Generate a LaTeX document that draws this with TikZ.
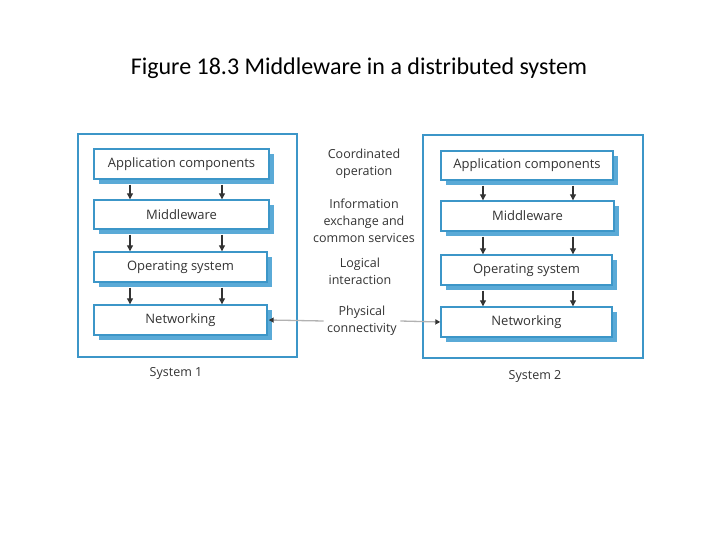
\documentclass[tikz,border=0pt]{standalone}
\usepackage{fontspec}
\setmainfont{Carlito}
\newfontfamily\diag{Open Sans}
\usetikzlibrary{arrows.meta}
\definecolor{fb}{RGB}{60,150,200}
\definecolor{sh}{RGB}{90,170,215}
\begin{document}
\begin{tikzpicture}[x=1pt,y=-1pt,
 frame/.style={draw=fb,line width=1.8pt},
 lay/.style={draw=fb,line width=1.4pt,fill=white,minimum height=30pt,inner sep=0pt,font=\diag\fontsize{13}{14}\selectfont,text=black!80},
 shad/.style={fill=sh},
 lab/.style={font=\diag\fontsize{12.5}{17}\selectfont,text=black!80,align=center},
 dn/.style={-{Triangle[length=6pt,width=6pt]},line width=1.1pt,black!80}]
\useasboundingbox (0,0) rectangle (720,540);
\node[font=\fontsize{24}{28}\selectfont] (title) at (359,68) {Figure 18.3 Middleware in a distributed system};
\draw[frame] (78,134) rectangle (297,357);
\draw[frame] (423,135) rectangle (643,358);
\foreach \n/\t/\ya/\yb/\xb in {a1/Application components/149/179/269,m1/Middleware/200/229/269,o1/Operating system/252/282/267,n1/Networking/305/335/267}{
 \fill[shad] (99,\ya+5) rectangle (\xb+5,\yb+5);
 \node[lay,minimum width=\xb-94,minimum height=\yb-\ya] (\n) at ({(94+\xb)/2},{(\ya+\yb)/2}) {\t};}
\foreach \n/\t/\ya/\yb/\xb in {a2/Application components/151/180/613,m2/Middleware/201/231/614,o2/Operating system/255/285/612,n2/Networking/307/337/612}{
 \fill[shad] (446,\ya+5) rectangle (\xb+5,\yb+5);
 \node[lay,minimum width=\xb-441,minimum height=\yb-\ya] (\n) at ({(441+\xb)/2},{(\ya+\yb)/2}) {\t};}
\foreach \u/\v in {a1/m1,m1/o1,o1/n1}{
 \draw[dn] (\u.south -| 130,0) ++(0,5) -- (\v.north -| 130,0);
 \draw[dn] (\u.south -| 222,0) ++(0,5) -- (\v.north -| 222,0);}
\foreach \u/\v in {a2/m2,m2/o2,o2/n2}{
 \draw[dn] (\u.south -| 483,0) ++(0,5) -- (\v.north -| 483,0);
 \draw[dn] (\u.south -| 573,0) ++(0,5) -- (\v.north -| 573,0);}
\node[lab] (c) at (364,164) {Coordinated\\operation};
\node[lab] (i) at (364,221) {Information\\exchange and\\common services};
\node[lab] (l) at (360,271) {Logical\\interaction};
\node[lab] (p) at (362,321) {Physical\\connectivity};
\draw[black!30,line width=1.3pt,{Triangle[length=5pt,width=5pt,black!80]}-] (n1.east) ++(1,0) -- (p.west);
\draw[black!30,line width=1.3pt,-{Triangle[length=5pt,width=5pt,black!80]}] (p.east) -- (n2.west);
\node[font=\diag\fontsize{12.5}{14}\selectfont,text=black!80] (s1) at (176,373) {System 1};
\node[font=\diag\fontsize{12.5}{14}\selectfont,text=black!80] (s2) at (535,376) {System 2};
\end{tikzpicture}
\end{document}
